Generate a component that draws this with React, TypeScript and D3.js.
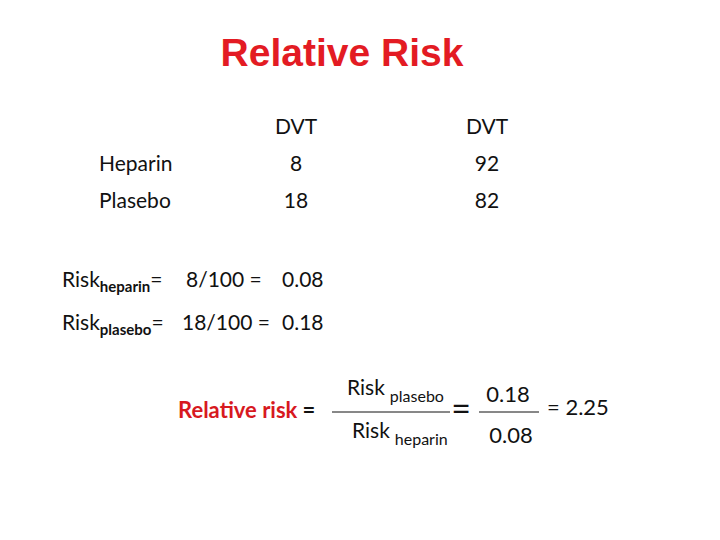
import React from "react";
import * as d3 from "d3";

const columns = ["DVT", "DVT"];
const groups = ["Heparin", "Plasebo"];
const withDvt = [8, 18];
const withoutDvt = [92, 82];
const totals = [100, 100];
const risks = [0.08, 0.18];
const relativeRisk = 2.25;

const FONT = "Lato, 'Open Sans', 'DejaVu Sans', sans-serif";

export default function App() {
  const W = 720, H = 540;
  const x = d3.scalePoint<number>().domain([0, 1]).range([296, 487]);
  const y = d3.scalePoint<number>().domain([0, 1]).range([171, 208]);
  const cells = [withDvt, withoutDvt];
  const fmt = d3.format(".2f");
  return (
    <svg width={W} height={H} style={{ position: "absolute", left: 0, top: 0, background: "#fff" }}>
      <text x={342} y={66} textAnchor="middle" fontFamily="'Liberation Sans', Arial, sans-serif" fontWeight="bold" fontSize={39} fill="#e31b23">Relative Risk</text>
      <g fontFamily={FONT} fontSize={21} fill="#111">
        {columns.map((c, i) => (
          <text key={"c" + i} x={x(i)} y={134} textAnchor="middle">{c}</text>
        ))}
        {groups.map((g, j) => (
          <text key={"g" + j} x={99} y={y(j)}>{g}</text>
        ))}
        {cells.map((col, i) => col.map((v, j) => (
          <text key={i + "-" + j} x={x(i)} y={y(j)} textAnchor="middle">{v}</text>
        )))}
        <text x={62} y={287}>Risk<tspan fontSize={15} fontWeight="bold" dy={5}>heparin</tspan><tspan dy={-5}>=</tspan></text>
        <text x={186} y={287}>{`${withDvt[0]}/${totals[0]} =`}</text>
        <text x={282} y={287}>{fmt(risks[0])}</text>
        <text x={62} y={330}>Risk<tspan fontSize={15} fontWeight="bold" dy={5}>plasebo</tspan><tspan dy={-5}>=</tspan></text>
        <text x={182} y={330}>{`${withDvt[1]}/${totals[1]} =`}</text>
        <text x={282} y={330}>{fmt(risks[1])}</text>

        <text x={178} y={418} fontWeight="bold" fontSize={22}><tspan fill="#d7191f">Relative risk</tspan><tspan fill="#111" dx={5}>=</tspan></text>
        <text x={347} y={395} fontSize={21}>Risk<tspan fontSize={16} dx={5} dy={7}>plasebo</tspan></text>
        <line x1={332} x2={450} y1={412} y2={412} stroke="#111" strokeWidth={1} />
        <text x={352} y={438} fontSize={21}>Risk<tspan fontSize={16} dx={5} dy={7}>heparin</tspan></text>
        <text x={461} y={421} fontSize={34} textAnchor="middle">=</text>
        <line x1={479} x2={539} y1={412} y2={412} stroke="#111" strokeWidth={1} />
        <text x={508} y={402} fontSize={22} textAnchor="middle">{fmt(risks[1])}</text>
        <text x={511} y={443} fontSize={22} textAnchor="middle">{fmt(risks[0])}</text>
        <text x={547} y={415} fontSize={22}>{`= ${fmt(relativeRisk)}`}</text>
      </g>
    </svg>
  );
}
